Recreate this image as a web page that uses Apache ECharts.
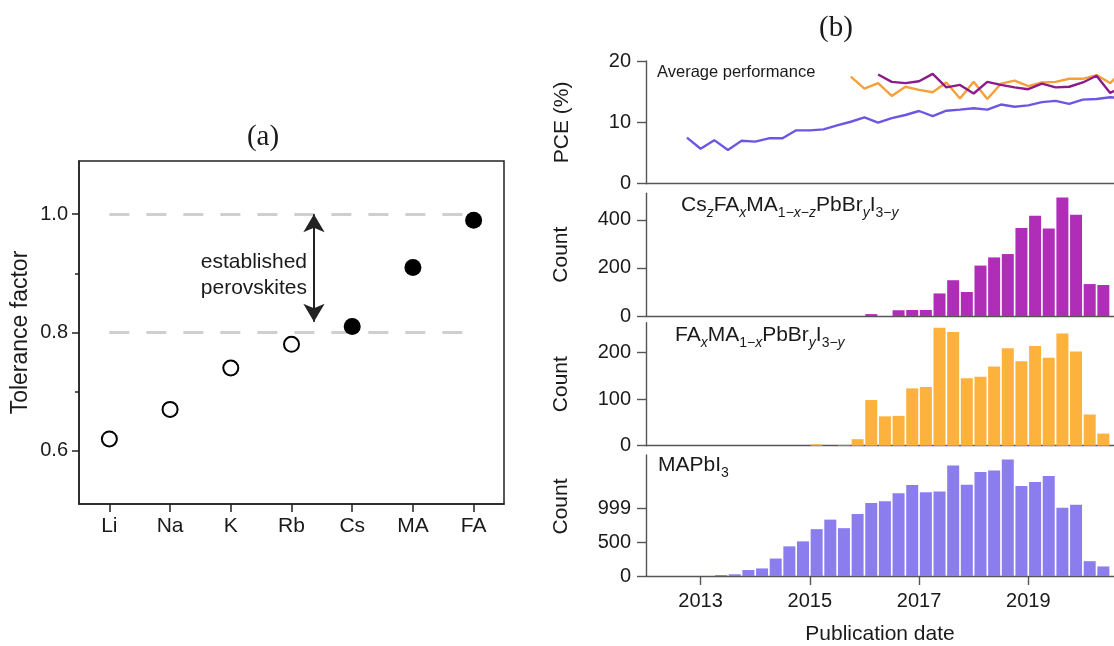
<!DOCTYPE html>
<html>
<head>
<meta charset="utf-8">
<script src="https://cdn.jsdelivr.net/npm/echarts@6/dist/echarts.min.js"></script>
<style>
  html, body { margin: 0; padding: 0; background: #fff; }
  #chart { width: 1114px; height: 646px; }
</style>
</head>
<body>
<div id="chart"></div>
<script>
// ---- (a) Goldschmidt tolerance factor of A-site cations ----
const cations = ['Li', 'Na', 'K', 'Rb', 'Cs', 'MA', 'FA'];
const tolerance = [0.62, 0.67, 0.74, 0.78, 0.81, 0.91, 0.99];
const establishedRange = [0.8, 1.0];
const toleranceTicks = [0.6, 0.8, 1.0];
const toleranceMinorTicks = [0.7, 0.9];

// ---- (b) publications per quarter (bin start, fractional year) ----
const quarters = [
  2013.25, 2013.5, 2013.75, 2014, 2014.25, 2014.5, 2014.75, 2015, 2015.25, 2015.5,
  2015.75, 2016, 2016.25, 2016.5, 2016.75, 2017, 2017.25, 2017.5, 2017.75, 2018,
  2018.25, 2018.5, 2018.75, 2019, 2019.25, 2019.5, 2019.75, 2020, 2020.25
];
const countCsFAMA = [
  0, 0, 0, 0, 0, 0, 0, 0, 0, 0,
  0, 8, 0, 24, 25, 25, 94, 149, 100, 210,
  244, 258, 367, 417, 364, 493, 422, 133, 129
];
const countFAMA = [
  0, 0, 0, 0, 0, 0, 0, 3, 0, 1,
  14, 98, 63, 64, 123, 126, 253, 244, 145, 148,
  170, 209, 181, 214, 189, 241, 202, 67, 26
];
const countMAPbI3 = [
  15, 25, 88, 112, 258, 438, 512, 692, 833, 707,
  916, 1077, 1106, 1223, 1345, 1238, 1247, 1632, 1349, 1535,
  1559, 1720, 1330, 1389, 1477, 1009, 1053, 219, 141
];

// average PCE (%) per quarter
const pceDatesMAPbI3 = [
  2012.75, 2013, 2013.25, 2013.5, 2013.75, 2014, 2014.25, 2014.5, 2014.75, 2015,
  2015.25, 2015.5, 2015.75, 2016, 2016.25, 2016.5, 2016.75, 2017, 2017.25, 2017.5,
  2017.75, 2018, 2018.25, 2018.5, 2018.75, 2019, 2019.25, 2019.5, 2019.75, 2020,
  2020.25, 2020.5, 2020.75
];
const pceMAPbI3 = [
  7.5, 5.7, 7.1, 5.5, 7.0, 6.85, 7.4, 7.4, 8.7, 8.7,
  8.86, 9.5, 10.1, 10.8, 9.95, 10.7, 11.2, 11.85, 11.0, 11.9,
  12.07, 12.3, 12.07, 12.9, 12.55, 12.77, 13.3, 13.5, 13.0, 13.7,
  13.8, 14.1, 13.9
];
const pceDatesFAMA = [
  2015.75, 2016, 2016.25, 2016.5, 2016.75, 2017, 2017.25, 2017.5, 2017.75, 2018,
  2018.25, 2018.5, 2018.75, 2019, 2019.25, 2019.5, 2019.75, 2020, 2020.25, 2020.5,
  2020.75
];
const pceFAMA = [
  17.45, 15.5, 16.4, 14.3, 15.8, 15.3, 14.9, 16.5, 13.9, 16.6,
  13.8, 16.3, 16.8, 15.9, 16.5, 16.6, 17.1, 17.1, 17.7, 16.4,
  18.6
];
const pceDatesCsFAMA = [
  2016.25, 2016.5, 2016.75, 2017, 2017.25, 2017.5, 2017.75, 2018, 2018.25, 2018.5,
  2018.75, 2019, 2019.25, 2019.5, 2019.75, 2020, 2020.25, 2020.5, 2020.75
];
const pceCsFAMA = [
  17.8, 16.6, 16.4, 16.7, 17.9, 15.7, 16.1, 14.7, 16.6, 16.1,
  15.7, 15.4, 16.3, 15.7, 15.8, 16.5, 17.6, 14.8, 15.9
];

const yearTicks = [2013, 2015, 2017, 2019];
const pceTicks = [0, 10, 20];
const csTicks = [0, 200, 400];
const faTicks = [0, 100, 200];
const maTicks = [0, 500, 999];

// ---- styling ----
const SANS = '"Liberation Sans", Arial, Helvetica, sans-serif';
const SERIF = '"Liberation Serif", "Times New Roman", serif';
const TXT = '#1a1a1a';
const AXB = '#555';
const C_CS = { bar: '#b02db8', line: '#8c1a8a' };
const C_FA = { bar: '#fdb23e', line: '#f6a03a' };
const C_MA = { bar: '#8c7def', line: '#6e56e4' };

const X_MIN = 2012, X_MAX = 2020.57;
const PANEL_LEFT = 646, PANEL_WIDTH = 468;

function pairs(xs, ys) { return xs.map((x, i) => [x, ys[i]]); }
function binBars(counts) { return quarters.map((q, i) => [q + 0.125, counts[i]]); }

function timeAxis(gridIndex, bottom) {
  return {
    type: 'value', gridIndex, min: X_MIN, max: X_MAX,
    axisLine: { show: true, onZero: false, lineStyle: { color: AXB, width: 1.4 } },
    axisTick: bottom ? { show: true, customValues: yearTicks, length: 9, inside: false, lineStyle: { color: AXB, width: 1.4 } } : { show: false },
    axisLabel: bottom ? { show: true, customValues: yearTicks, formatter: v => String(v), fontSize: 20, fontFamily: SANS, color: TXT, margin: 15 } : { show: false },
    splitLine: { show: false },
    name: bottom ? 'Publication date' : '',
    nameLocation: 'middle', nameGap: 48,
    nameTextStyle: { fontSize: 21, fontFamily: SANS, color: TXT }
  };
}
function countAxis(gridIndex, max, ticks, name, gap, pad) {
  return {
    type: 'value', gridIndex, min: 0, max,
    axisLine: { show: true, onZero: false, lineStyle: { color: AXB, width: 1.4 } },
    axisTick: { show: true, customValues: ticks, length: 9, lineStyle: { color: AXB, width: 1.4 } },
    axisLabel: { show: true, customValues: ticks, formatter: v => String(v), fontSize: 20, fontFamily: SANS, color: TXT, margin: 15 },
    splitLine: { show: false },
    name, nameLocation: 'middle', nameGap: gap, nameRotate: 90,
    nameTextStyle: { fontSize: 21, fontFamily: SANS, color: TXT, padding: pad || 0 }
  };
}

const option = {
  animation: false,
  backgroundColor: '#fff',
  grid: [
    { left: 79, top: 161, width: 425, height: 343, show: true, borderColor: '#222', borderWidth: 1.5, backgroundColor: 'transparent' },
    { left: PANEL_LEFT, top: 61, width: PANEL_WIDTH, height: 122.7 },
    { left: PANEL_LEFT, top: 193.3, width: PANEL_WIDTH, height: 122.7 },
    { left: PANEL_LEFT, top: 322.7, width: PANEL_WIDTH, height: 123 },
    { left: PANEL_LEFT, top: 455, width: PANEL_WIDTH, height: 122.3 }
  ],
  xAxis: [
    {
      type: 'category', gridIndex: 0, data: cations, boundaryGap: true,
      axisLine: { show: true, onZero: false, lineStyle: { color: '#222', width: 1.5 } },
      axisTick: { show: true, alignWithLabel: true, length: 8, lineStyle: { color: '#222', width: 1.5 } },
      axisLabel: { fontSize: 21, fontFamily: SANS, color: TXT, margin: 12 },
      splitLine: { show: false }
    },
    { type: 'value', gridIndex: 0, min: -0.5, max: 6.5, show: false },
    timeAxis(1, false),
    timeAxis(2, false),
    timeAxis(3, false),
    timeAxis(4, true)
  ],
  yAxis: [
    {
      type: 'value', gridIndex: 0, min: 0.51, max: 1.09, position: 'left',
      axisLine: { show: true, onZero: false, lineStyle: { color: '#222', width: 1.5 } },
      axisTick: { show: true, customValues: toleranceTicks, length: 7, lineStyle: { color: '#222', width: 1.5 } },
      axisLabel: { customValues: toleranceTicks, formatter: v => v.toFixed(1), fontSize: 20, fontFamily: SANS, color: TXT, margin: 11 },
      splitLine: { show: false },
      name: 'Tolerance factor', nameLocation: 'middle', nameGap: 47, nameRotate: 90,
      nameTextStyle: { fontSize: 23, fontFamily: SANS, color: TXT }
    },
    {
      type: 'value', gridIndex: 0, min: 0.51, max: 1.09, position: 'left',
      axisLine: { show: false, onZero: false },
      axisTick: { show: true, customValues: toleranceMinorTicks, length: 4, lineStyle: { color: '#222', width: 1.5 } },
      axisLabel: { show: false }, splitLine: { show: false }
    },
    countAxis(1, 20, pceTicks, 'PCE (%)', 73),
    countAxis(2, 511, csTicks, 'Count', 74),
    countAxis(3, 264, faTicks, 'Count', 74),
    countAxis(4, 1788, maTicks, 'Count', 74, [0, 0, 0, 18])
  ],
  series: [
    // (a) tolerance factors: filled markers lie inside the established range
    {
      type: 'scatter', xAxisIndex: 0, yAxisIndex: 0, z: 5,
      itemStyle: { opacity: 1 },
      data: tolerance.map(t => {
        const inside = t >= establishedRange[0] && t <= establishedRange[1];
        return inside
          ? { value: t, symbolSize: 17, itemStyle: { color: '#000', borderWidth: 0, opacity: 1 } }
          : { value: t, symbolSize: 15, itemStyle: { color: '#fff', borderColor: '#000', borderWidth: 2, opacity: 1 } };
      })
    },
    // (a) dashed bounds of the established range
    {
      type: 'line', xAxisIndex: 1, yAxisIndex: 0, data: [], z: 2,
      markLine: {
        silent: true, symbol: 'none', label: { show: false },
        lineStyle: { color: '#cfcfcf', width: 3, type: [20, 17] },
        data: establishedRange.map(v => [{ coord: [0, v] }, { coord: [6, v] }])
      }
    },
    // (a) double-headed arrow spanning the range
    {
      type: 'line', xAxisIndex: 1, yAxisIndex: 0, data: [], z: 3,
      markLine: {
        silent: true, symbol: ['arrow', 'arrow'], symbolSize: [16, 18], label: { show: false },
        lineStyle: { color: '#222', width: 2, type: 'solid' },
        data: [[{ coord: [3.37, establishedRange[1]] }, { coord: [3.37, establishedRange[0] + 0.018] }]]
      }
    },
    // (b) average PCE
    {
      type: 'line', xAxisIndex: 2, yAxisIndex: 2, data: pairs(pceDatesMAPbI3, pceMAPbI3),
      showSymbol: false, clip: true, lineStyle: { color: C_MA.line, width: 2.4 }
    },
    {
      type: 'line', xAxisIndex: 2, yAxisIndex: 2, data: pairs(pceDatesFAMA, pceFAMA),
      showSymbol: false, clip: true, lineStyle: { color: C_FA.line, width: 2.4 }
    },
    {
      type: 'line', xAxisIndex: 2, yAxisIndex: 2, data: pairs(pceDatesCsFAMA, pceCsFAMA),
      showSymbol: false, clip: true, lineStyle: { color: C_CS.line, width: 2.4 }
    },
    // (b) publication counts
    { type: 'bar', xAxisIndex: 3, yAxisIndex: 3, data: binBars(countCsFAMA), barWidth: 12, itemStyle: { color: C_CS.bar } },
    { type: 'bar', xAxisIndex: 4, yAxisIndex: 4, data: binBars(countFAMA), barWidth: 12, itemStyle: { color: C_FA.bar } },
    { type: 'bar', xAxisIndex: 5, yAxisIndex: 5, data: binBars(countMAPbI3), barWidth: 12, itemStyle: { color: C_MA.bar } }
  ],
  graphic: [
    { type: 'text', x: 263, y: 137, style: { text: '(a)', fontSize: 29, fontFamily: SERIF, fill: TXT, align: 'center', verticalAlign: 'middle' } },
    { type: 'text', x: 836, y: 28, style: { text: '(b)', fontSize: 29, fontFamily: SERIF, fill: TXT, align: 'center', verticalAlign: 'middle' } },
    { type: 'text', x: 307, y: 275, style: { text: 'established\nperovskites', fontSize: 21, lineHeight: 26, fontFamily: SANS, fill: TXT, align: 'right', verticalAlign: 'middle' } },
    { type: 'text', x: 657, y: 72, style: { text: 'Average performance', fontSize: 16.5, fontFamily: SANS, fill: TXT, align: 'left', verticalAlign: 'middle' } },
    {
      type: 'text', x: 681, y: 205,
      style: {
        text: '{b|Cs}{si|z}{b|FA}{si|x}{b|MA}{s|1\u2212}{si|x}{s|\u2212}{si|z}{b|PbBr}{si|y}{b|I}{s|3\u2212}{si|y}',
        align: 'left', verticalAlign: 'middle',
        rich: {
          b: { fontSize: 21, lineHeight: 30, fontFamily: SANS, fill: TXT },
          s: { fontSize: 14, lineHeight: 13, verticalAlign: 'bottom', fontFamily: SANS, fill: TXT },
          si: { fontSize: 14, lineHeight: 13, verticalAlign: 'bottom', fontStyle: 'italic', fontFamily: SANS, fill: TXT }
        }
      }
    },
    {
      type: 'text', x: 675, y: 335,
      style: {
        text: '{b|FA}{si|x}{b|MA}{s|1\u2212}{si|x}{b|PbBr}{si|y}{b|I}{s|3\u2212}{si|y}',
        align: 'left', verticalAlign: 'middle',
        rich: {
          b: { fontSize: 21, lineHeight: 30, fontFamily: SANS, fill: TXT },
          s: { fontSize: 14, lineHeight: 13, verticalAlign: 'bottom', fontFamily: SANS, fill: TXT },
          si: { fontSize: 14, lineHeight: 13, verticalAlign: 'bottom', fontStyle: 'italic', fontFamily: SANS, fill: TXT }
        }
      }
    },
    {
      type: 'text', x: 658, y: 465,
      style: {
        text: '{b|MAPbI}{s|3}',
        align: 'left', verticalAlign: 'middle',
        rich: {
          b: { fontSize: 21, lineHeight: 30, fontFamily: SANS, fill: TXT },
          s: { fontSize: 14, lineHeight: 13, verticalAlign: 'bottom', fontFamily: SANS, fill: TXT }
        }
      }
    }
  ]
};

const chart = echarts.init(document.getElementById('chart'), null, { renderer: 'canvas' });
chart.setOption(option);
</script>
</body>
</html>
